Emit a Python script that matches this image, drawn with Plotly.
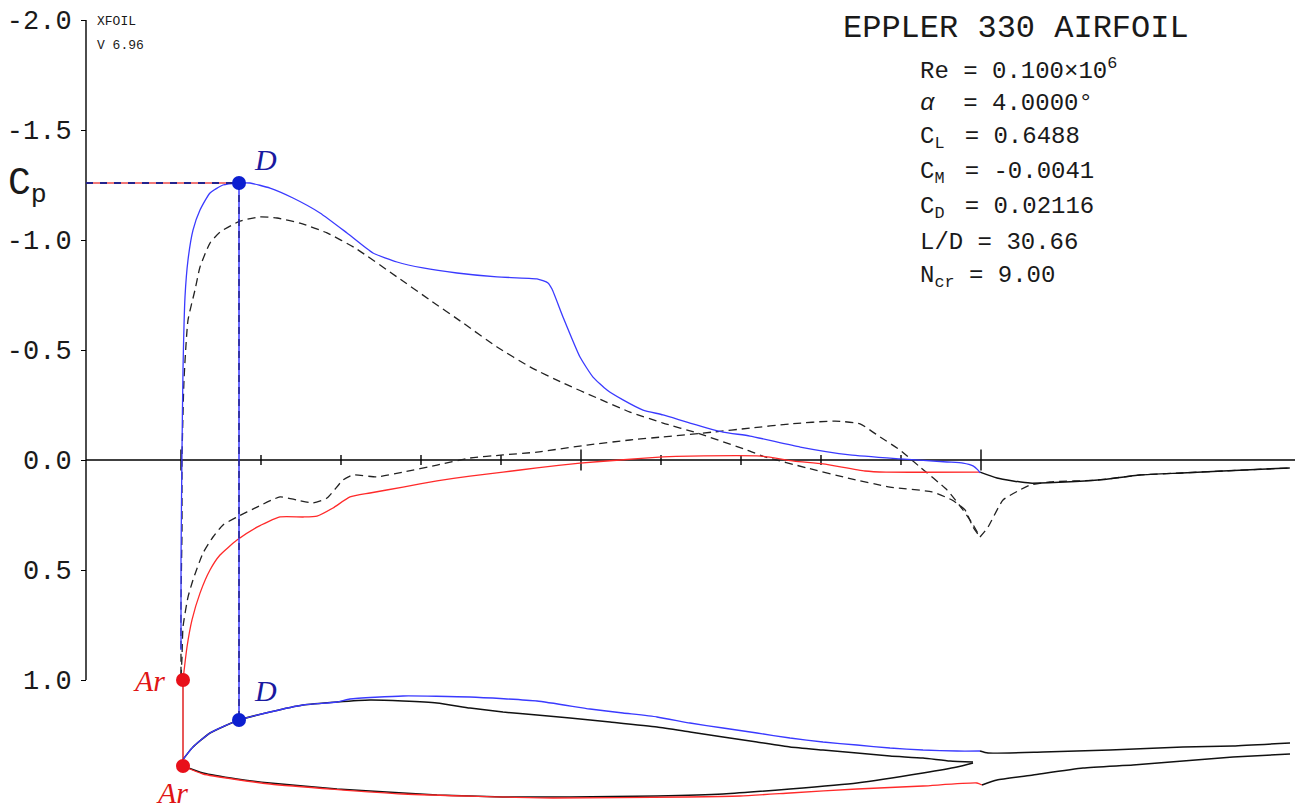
import plotly.graph_objects as go

# ---------------- data (x/c, Cp) ----------------
# viscous Cp, upper surface (blue)
up_x = [0.0, 0.0, 0.00125, 0.0025, 0.005, 0.00875, 0.015, 0.02375, 0.03625, 0.0525, 0.0725,
        0.08625, 0.11125, 0.14, 0.17375, 0.2075, 0.24, 0.27, 0.3025, 0.345, 0.395, 0.445,
        0.45875, 0.46375, 0.4775, 0.49875, 0.515, 0.5325, 0.5525, 0.5775, 0.6025, 0.63625,
        0.6775, 0.71125, 0.774, 0.836, 0.899, 0.9575, 0.9775, 0.99, 0.996, 0.999]
up_cp = [0.864, 0.455, -0.045, -0.41, -0.741, -0.909, -1.045, -1.136, -1.214, -1.25, -1.259,
         -1.259, -1.236, -1.191, -1.123, -1.032, -0.941, -0.9, -0.873, -0.85, -0.832, -0.823,
         -0.805, -0.777, -0.65, -0.468, -0.377, -0.318, -0.273, -0.227, -0.205, -0.168,
         -0.127, -0.109, -0.059, -0.023, -0.005, 0.009, 0.014, 0.027, 0.045, 0.059]

# viscous Cp, lower surface (red)
lo_x = [0.0025, 0.0075, 0.01375, 0.02375, 0.03625, 0.04875, 0.07, 0.095, 0.12375, 0.1525,
        0.17, 0.19, 0.21125, 0.23625, 0.2775, 0.32, 0.36125, 0.4025, 0.445, 0.49875, 0.54875,
        0.6025, 0.63625, 0.725, 0.76625, 0.8025, 0.855, 0.88125, 0.99875]
lo_cp = [1.0, 0.85, 0.727, 0.605, 0.5, 0.432, 0.364, 0.305, 0.259, 0.259,
         0.255, 0.218, 0.168, 0.15, 0.123, 0.095, 0.073, 0.055, 0.036, 0.014, 0.0,
         -0.014, -0.018, -0.018, 0.005, 0.018, 0.05, 0.055, 0.055]

# viscous Cp in the wake (black solid)
wk_x = [0.99875, 1.02, 1.04, 1.06125, 1.105, 1.146, 1.199, 1.251, 1.3025, 1.386]
wk_cp = [0.055, 0.082, 0.095, 0.105, 0.1, 0.091, 0.068, 0.059, 0.05, 0.036]

# inviscid Cp, upper side (black dashed)
iu_x = [0.0, 0.0, 0.00125, 0.00125, 0.00375, 0.00875, 0.0175, 0.02375, 0.03625, 0.04875,
        0.07375, 0.09875, 0.12, 0.14875, 0.1825, 0.2175, 0.27, 0.31125, 0.3525, 0.395,
        0.43625, 0.4775, 0.52, 0.56125, 0.6025, 0.645, 0.7075, 0.73, 0.7825, 0.83375,
        0.88625, 0.93875, 0.96375, 0.98, 0.99, 0.99875]
iu_cp = [0.977, 0.636, 0.318, 0.0, -0.364, -0.636, -0.773, -0.877, -0.986, -1.036,
         -1.086, -1.105, -1.1, -1.077, -1.032, -0.964, -0.832, -0.727, -0.623, -0.514,
         -0.423, -0.35, -0.282, -0.218, -0.168, -0.123, -0.045, -0.014, 0.036, 0.082,
         0.123, 0.145, 0.182, 0.227, 0.305, 0.35]

# inviscid Cp, lower side (black dashed)
il_x = [0.0, 0.00125, 0.0025, 0.00875, 0.015, 0.0275, 0.04, 0.0525, 0.07, 0.095, 0.12375,
        0.145, 0.165, 0.1825, 0.2025, 0.215, 0.245, 0.2775, 0.32, 0.36125, 0.4025, 0.445,
        0.5075, 0.56125, 0.6025, 0.665, 0.71125, 0.76125, 0.8175, 0.84875, 0.87375,
        0.89875, 0.92375, 0.9575, 0.9775, 0.98875, 0.99875]
il_cp = [0.99, 0.895, 0.759, 0.623, 0.545, 0.423, 0.35, 0.295, 0.259, 0.214, 0.168,
         0.182, 0.195, 0.173, 0.091, 0.068, 0.077, 0.055, 0.023, -0.009, -0.023, -0.036,
         -0.068, -0.091, -0.105, -0.127, -0.145, -0.164, -0.177, -0.164, -0.105,
         -0.045, 0.032, 0.136, 0.227, 0.286, 0.35]

# inviscid Cp in the wake (black dashed)
iw_x = [0.99875, 1.00875, 1.0275, 1.04875, 1.06125, 1.086, 1.146, 1.199, 1.251, 1.3025, 1.386]
iw_cp = [0.35, 0.305, 0.182, 0.136, 0.114, 0.1, 0.091, 0.068, 0.059, 0.05, 0.036]

# airfoil geometry (x/c, y/c)
af_up_x = [0.0025, 0.0025, 0.015, 0.03625, 0.0725, 0.11125, 0.1525, 0.195, 0.23625, 0.2775,
           0.32, 0.36125, 0.4025, 0.445, 0.48625, 0.53625, 0.595, 0.63625, 0.6775, 0.72,
           0.76125, 0.8025, 0.845, 0.88625, 0.9275, 0.96125, 0.99]
af_up_y = [0.0, 0.0075, 0.02375, 0.04125, 0.0575, 0.0675, 0.07625, 0.08, 0.0825, 0.08125,
           0.07875, 0.0725, 0.0675, 0.06375, 0.06, 0.055, 0.04875, 0.0425, 0.03625, 0.03,
           0.02375, 0.02, 0.01625, 0.0125, 0.01, 0.00625, 0.005]
af_lo_x = [0.0025, 0.0275, 0.07, 0.11125, 0.1525, 0.195, 0.23625, 0.2775, 0.32, 0.36125,
           0.4025, 0.48625, 0.595, 0.6775, 0.76125, 0.845, 0.9275, 0.97, 0.99]
af_lo_y = [0.0, -0.00875, -0.01625, -0.02125, -0.025, -0.02875, -0.03125, -0.03375, -0.03625,
           -0.0375, -0.03875, -0.03875, -0.0375, -0.035, -0.02875, -0.02125, -0.00875,
           -0.00125, 0.00375]

# displacement-thickness surface, upper (blue) and lower (red)
ds_up_x = [0.0025, 0.0025, 0.015, 0.03625, 0.0725, 0.11125, 0.1525, 0.195, 0.21125, 0.2775,
           0.36125, 0.445, 0.51125, 0.5525, 0.595, 0.63625, 0.6775, 0.72, 0.76125, 0.8025,
           0.845, 0.88625, 0.9275, 0.97, 0.99875]
ds_up_y = [0.0, 0.0075, 0.02375, 0.04125, 0.0575, 0.0675, 0.07625, 0.08, 0.08375, 0.0875,
           0.08625, 0.08125, 0.07125, 0.06625, 0.06125, 0.05375, 0.0475, 0.04125, 0.035, 0.03,
           0.02625, 0.0225, 0.02, 0.01875, 0.01875]
ds_lo_x = [0.0025, 0.0275, 0.11125, 0.2775, 0.465, 0.6325, 0.69875, 0.76125, 0.845, 0.9275,
           0.995, 1.00125]
ds_lo_y = [0.0, -0.01, -0.0225, -0.035, -0.04, -0.03875, -0.0375, -0.03375, -0.02875, -0.025,
           -0.02125, -0.02375]

# wake displacement lines (black)
wu_x = [0.99875, 1.00875, 1.0775, 1.16125, 1.2525, 1.315, 1.38625]
wu_y = [0.01875, 0.01625, 0.0175, 0.02, 0.02375, 0.025, 0.02875]
wl_x = [1.00125, 1.02, 1.065, 1.1275, 1.19, 1.2525, 1.315, 1.38625]
wl_y = [-0.02375, -0.0175, -0.01125, -0.0025, 0.00125, 0.00625, 0.01125, 0.015]

# marked points
D_X, D_CP, D_YC = 0.0725, -1.259, 0.0575
AR_X, AR_CP, AR_YC = 0.0025, 1.0, 0.0

# axis ticks
cp_ticks = [-2.0, -1.5, -1.0, -0.5, 0.0, 0.5, 1.0]
cp_labels = ["-2.0", "-1.5", "-1.0", "-0.5", "0.0", "0.5", "1.0"]
x_small_ticks = [0.1, 0.2, 0.3, 0.4, 0.6, 0.7, 0.8, 0.9]
x_big_ticks = [0.0, 0.5, 1.0]

title = "EPPLER 330 AIRFOIL"
info_lines = ["Re = 0.100×10<sup>6</sup>",
              "<i>α</i>  = 4.0000°",
              "C<sub>L  </sub>= 0.6488",
              "C<sub>M  </sub>= -0.0041",
              "C<sub>D  </sub>= 0.02116",
              "L/D = 30.66",
              "N<sub>cr</sub> = 9.00"]

# ---------------- layout geometry ----------------
W, H = 1295, 810
MT = 20
X_RANGE = [-181 / 800, (W - 181) / 800]
CP_RANGE = [-2.0 + (H - MT) / 220, -2.0]
AF_RANGE = [-(H - 766) / 800, (766 - MT) / 800]
AXIS_PX = 86
AXIS_X = X_RANGE[0] + AXIS_PX / W * (X_RANGE[1] - X_RANGE[0])


def cp_of_yc(yc):
    f = (yc - AF_RANGE[0]) / (AF_RANGE[1] - AF_RANGE[0])
    return CP_RANGE[0] + f * (CP_RANGE[1] - CP_RANGE[0])


def P(xp, yp):
    return xp / W, (H - yp) / (H - MT)


MONO = "Liberation Mono"
SERIF = "Liberation Serif"
BLUE = "#3a3aff"
RED = "#ff2a2a"
NAVY = "#23238c"
TXT = "#1a1a1a"

fig = go.Figure()


def line(x, y, color, width=1.3, dash=None, yaxis="y", smooth=False):
    ld = dict(color=color, width=width, dash=dash)
    if smooth:
        ld.update(shape="spline", smoothing=0.5)
    fig.add_trace(go.Scatter(x=x, y=y, mode="lines", yaxis=yaxis, hoverinfo="skip", line=ld))


# zero line & ticks
line([AXIS_X, X_RANGE[1]], [0.0, 0.0], "#000", 1.4)
fig.add_trace(go.Scatter(x=x_small_ticks, y=[0.0] * len(x_small_ticks), mode="markers",
                         hoverinfo="skip",
                         marker=dict(symbol="line-ns", size=7, line=dict(color="#000", width=1.4))))
fig.add_trace(go.Scatter(x=x_big_ticks, y=[0.0] * len(x_big_ticks), mode="markers",
                         hoverinfo="skip",
                         marker=dict(symbol="line-ns", size=15, line=dict(color="#000", width=1.4))))
# Cp axis line
line([AXIS_X, AXIS_X], [cp_ticks[0], cp_ticks[-1]], "#000", 1.4)

# inviscid (dashed)
line(iu_x, iu_cp, "#222", 1.3, "8px,5px", smooth=True)
line(il_x, il_cp, "#222", 1.3, "8px,5px", smooth=True)
line(iw_x, iw_cp, "#222", 1.3, "8px,5px", smooth=True)
# viscous
line(wk_x, wk_cp, "#111", 1.5, smooth=True)
line(lo_x, lo_cp, RED, 1.3, smooth=True)
line(up_x, up_cp, BLUE, 1.3, smooth=True)

# airfoil
line(af_up_x, af_up_y, "#111", 1.5, yaxis="y2", smooth=True)
line(af_lo_x, af_lo_y, "#111", 1.5, yaxis="y2", smooth=True)
line(ds_lo_x, ds_lo_y, RED, 1.3, yaxis="y2", smooth=True)
line(ds_up_x, ds_up_y, BLUE, 1.3, yaxis="y2", smooth=True)
line(wu_x, wu_y, "#111", 1.5, yaxis="y2", smooth=True)
line(wl_x, wl_y, "#111", 1.5, yaxis="y2", smooth=True)

# connecting lines
line([AXIS_X, D_X], [D_CP, D_CP], "#f07878", 2.0)
line([AXIS_X, D_X], [D_CP, D_CP], NAVY, 2.0, "7px,7px")
line([D_X, D_X], [D_CP, cp_of_yc(D_YC)], BLUE, 1.5)
line([D_X, D_X], [D_CP, cp_of_yc(D_YC)], NAVY, 1.5, "7px,5px")
line([AR_X, AR_X], [AR_CP, cp_of_yc(AR_YC)], "#e02020", 1.5)

# markers
fig.add_trace(go.Scatter(x=[D_X], y=[D_CP], mode="markers", hoverinfo="skip",
                         marker=dict(size=14, color="#0c1fd0")))
fig.add_trace(go.Scatter(x=[D_X], y=[D_YC], yaxis="y2", mode="markers", hoverinfo="skip",
                         marker=dict(size=14, color="#0c1fd0")))
fig.add_trace(go.Scatter(x=[AR_X], y=[AR_CP], mode="markers", hoverinfo="skip",
                         marker=dict(size=14, color="#e8101a")))
fig.add_trace(go.Scatter(x=[AR_X], y=[AR_YC], yaxis="y2", mode="markers", hoverinfo="skip",
                         marker=dict(size=14, color="#e8101a")))

ann = []


def text(xp, yp, s, size, family=MONO, color=TXT, xanchor="left"):
    x, y = P(xp, yp)
    ann.append(dict(x=x, y=y, xref="paper", yref="paper", text=s, showarrow=False,
                    xanchor=xanchor, yanchor="middle",
                    font=dict(family=family, size=size, color=color)))


text(841, 28, title, 32)
for i, s in enumerate(info_lines):
    text(918, 69 + i * 34.7, s, 24)
text(95, 21, "XFOIL", 13)
text(95, 46, "V 6.96", 13)
text(6, 186, "C<sub>p</sub>", 38)
text(265, 160, "<i>D</i>", 30, SERIF, "#1a1aa0", "center")
text(265, 690, "<i>D</i>", 30, SERIF, "#1a1aa0", "center")
text(149, 680, "<i>Ar</i>", 30, SERIF, "#e01515", "center")
text(172, 792, "<i>Ar</i>", 30, SERIF, "#e01515", "center")

fig.update_layout(
    width=W, height=H,
    margin=dict(l=0, r=0, t=MT, b=0),
    paper_bgcolor="white", plot_bgcolor="white",
    showlegend=False,
    annotations=ann,
    xaxis=dict(range=X_RANGE, visible=False, domain=[0, 1]),
    yaxis=dict(range=CP_RANGE, tickvals=cp_ticks, ticktext=cp_labels,
               tickfont=dict(family=MONO, size=27, color=TXT),
               showgrid=False, zeroline=False, showline=False,
               ticks="outside", ticklen=5, tickcolor="#000", tickwidth=1.4,
               anchor="free", position=AXIS_PX / W, ticklabelstandoff=4),
    yaxis2=dict(range=AF_RANGE, overlaying="y", visible=False),
)

fig.write_html("out.html", config={"displayModeBar": False},
               post_script="document.body.style.margin='0px';document.body.style.padding='0px';")
